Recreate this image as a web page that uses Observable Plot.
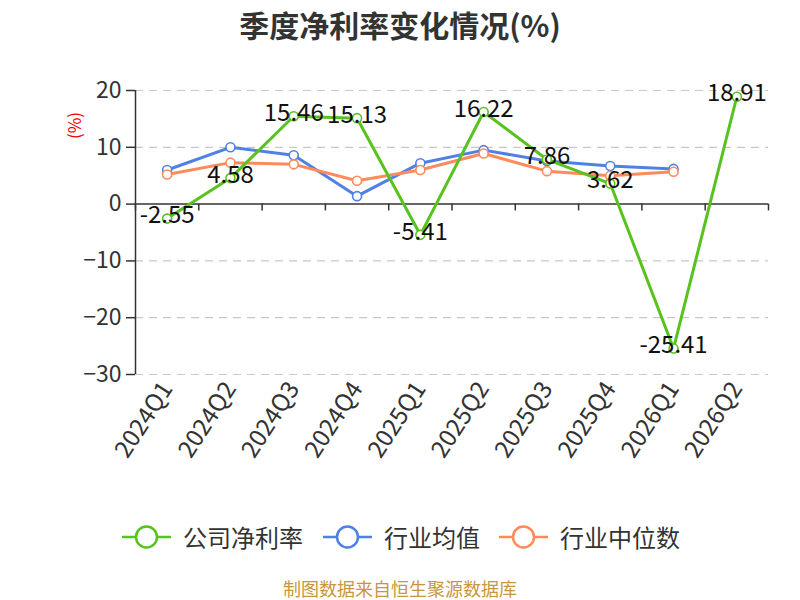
<!DOCTYPE html>
<html>
<head>
<meta charset="utf-8">
<script src="https://cdn.jsdelivr.net/npm/d3@7"></script>
<script src="https://cdn.jsdelivr.net/npm/@observablehq/plot@0.6"></script>
<style>
  html, body { margin: 0; padding: 0; background: #fff; }
  #wrap { position: relative; width: 800px; height: 600px; font-family: "Noto Sans CJK SC", "Noto Sans", sans-serif; }
  #title { position: absolute; top: 2px; left: 0; width: 800px; text-align: center; font-size: 30px; font-weight: bold; color: #333; }
  #chart { position: absolute; top: 0; left: 0; }
  #ylab { position: absolute; left: 60px; top: 113px; color: #e00; font-size: 17px; transform: rotate(-90deg); transform-origin: center; }
  #legend { position: absolute; top: 519px; left: 0; width: 800px; height: 36px; }
  .item { position: absolute; top: 0; height: 36px; display: flex; align-items: center; font-size: 24px; line-height: 36px; color: #333; }
  .item svg { margin-right: 12px; }
  #caption { position: absolute; top: 576px; left: 0; width: 800px; text-align: center; font-size: 18px; line-height: 24px; color: #c8963c; }
</style>
</head>
<body>
<div id="wrap">
  <div id="chart"></div>
  <div id="title">季度净利率变化情况(%)</div>
  <div id="ylab">(%)</div>
  <div id="legend"></div>
  <div id="caption">制图数据来自恒生聚源数据库</div>
</div>
<script>
const quarters = ["2024Q1","2024Q2","2024Q3","2024Q4","2025Q1","2025Q2","2025Q3","2025Q4","2026Q1","2026Q2"];
const companyNetMargin = [-2.55, 4.58, 15.46, 15.13, -5.41, 16.22, 7.86, 3.62, -25.41, 18.91];
const industryMean = [6.0, 10.0, 8.6, 1.4, 7.2, 9.5, 7.6, 6.7, 6.2, null];
const industryMedian = [5.2, 7.3, 7.0, 4.1, 6.0, 8.9, 5.8, 5.0, 5.7, null];
const yTicks = [-30, -20, -10, 0, 10, 20];
const seriesNames = ["公司净利率", "行业均值", "行业中位数"];
const seriesColors = ["#58c21e", "#4f81e5", "#ff8a5c"];

const mk = (vals) => vals.map((v, i) => ({i, v})).filter(d => d.v !== null);
const comp = mk(companyNetMargin), mean = mk(industryMean), med = mk(industryMedian);
const bounds = d3.range(quarters.length + 1).map(k => k - 0.5);

function series(data, color) {
  return [
    Plot.line(data, {x: "i", y: "v", stroke: color, strokeWidth: 3}),
    Plot.dot(data, {x: "i", y: "v", r: 4.5, fill: "#fff", stroke: color, strokeWidth: 1.6})
  ];
}

const chart = Plot.plot({
  width: 800,
  height: 480,
  marginTop: 90,
  marginBottom: 106,
  marginLeft: 135,
  marginRight: 32,
  style: {fontFamily: "'Noto Sans CJK SC', 'Noto Sans', sans-serif", color: "#333", background: "transparent"},
  x: {domain: [-0.5, quarters.length - 0.5], axis: null},
  y: {domain: [-30, 20], axis: null},
  marks: [
    Plot.ruleY(yTicks.filter(d => d !== 0), {stroke: "#c8c8c8", strokeWidth: 1.2, strokeDasharray: "8,6"}),
    Plot.ruleX([-0.5], {y1: -30, y2: 20, stroke: "#333", strokeWidth: 1.5}),
    Plot.ruleY([0], {stroke: "#333", strokeWidth: 1.5}),
    Plot.ruleX(bounds, {x: d => d, y1: 0, y2: -1.2, stroke: "#333", strokeWidth: 1.5}),
    Plot.axisY(yTicks, {label: null, tickSize: 9, tickPadding: 5, fontSize: 23, fill: "#333", stroke: "#333", strokeWidth: 1.5}),
    Plot.axisX(d3.range(quarters.length), {label: null, anchor: "bottom", tickSize: 0, tickPadding: 10, tickRotate: -57, fontSize: 24, fill: "#333", tickFormat: i => quarters[i]}),
    ...series(mean, seriesColors[1]),
    ...series(med, seriesColors[2]),
    ...series(comp, seriesColors[0]),
    Plot.text(comp, {x: "i", y: "v", text: d => d.v.toFixed(2), dy: -3, fontSize: 24, fill: "#111"})
  ]
});
document.getElementById("chart").appendChild(chart);

const legend = document.getElementById("legend");
const lefts = [122, 323, 499];
seriesNames.forEach((name, k) => {
  const div = document.createElement("div");
  div.className = "item";
  div.style.left = lefts[k] + "px";
  div.innerHTML = `<svg width="49" height="36"><line x1="0" y1="18" x2="49" y2="18" stroke="${seriesColors[k]}" stroke-width="2.5"/><circle cx="24.5" cy="18" r="10.5" fill="#fff" stroke="${seriesColors[k]}" stroke-width="2.5"/></svg><span>${name}</span>`;
  legend.appendChild(div);
});
</script>
</body>
</html>
